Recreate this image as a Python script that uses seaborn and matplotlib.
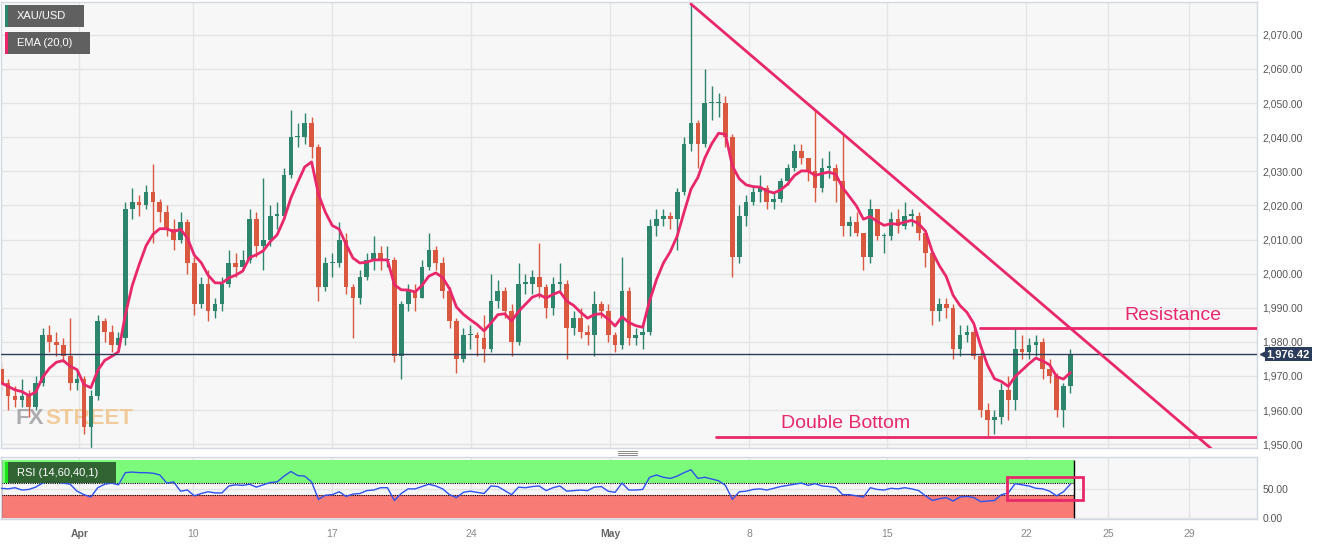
import numpy as np
import pandas as pd
import matplotlib
matplotlib.use("Agg")
import matplotlib.pyplot as plt
import matplotlib.transforms as mtransforms
from matplotlib.patches import Rectangle
from matplotlib.lines import Line2D
import seaborn as sns

# XAU/USD 6-hour candles, Mar 29 - May 23 (trading days only, 4 bars per day)
first_open = 1972
close = [1968, 1964, 1963, 1964, 1961, 1968, 1982, 1980, 1979, 1976, 1968, 1969,
         1955, 1964, 1986, 1983, 1979, 1981, 2019, 2021, 2020, 2024, 2021, 2018,
         2013, 2010, 2015, 2003, 1991, 1997, 1989, 1991, 1997, 2003, 2002, 2004,
         2016, 2008, 2010, 2017, 2017, 2029, 2040, 2040, 2044, 2037, 1996, 2003,
         2003, 2010, 1996, 1993, 1999, 2004, 2006, 2004, 2004, 1976, 1991, 1995,
         1993, 2002, 2007, 2003, 1995, 1986, 1975, 1982, 1982, 1981, 1978, 1992,
         1995, 1989, 1980, 1997, 1997, 1999, 1996, 1990, 1997, 1997, 1984, 1987,
         1983, 1982, 1991, 1989, 1982, 1979, 1995, 1981, 1982, 1983, 2014, 2016,
         2017, 2016, 2024, 2038, 2044, 2038, 2050, 2050, 2050, 2040, 2005, 2017,
         2021, 2024, 2025, 2021, 2022, 2027, 2031, 2036, 2034, 2030, 2025, 2031,
         2031, 2027, 2014, 2015, 2012, 2005, 2019, 2011, 2011, 2016, 2014, 2017,
         2017, 2012, 2006, 1989, 1991, 1990, 1978, 1982, 1983, 1976, 1960, 1957,
         1958, 1966, 1963, 1978, 1977, 1979, 1980, 1972, 1970, 1960, 1967, 1976.42]
high = [1974, 1969, 1967, 1969, 1966, 1970, 1984, 1985, 1983, 1981, 1987, 1972,
        1970, 1966, 1988, 1987, 1985, 1983, 2021, 2025, 2023, 2026, 2032, 2022,
        2020, 2016, 2018, 2016, 2005, 1999, 2001, 1993, 1999, 2007, 2006, 2007,
        2019, 2018, 2028, 2020, 2021, 2031, 2048, 2044, 2047, 2046, 2038, 2005,
        2006, 2015, 2012, 1997, 2001, 2006, 2011, 2008, 2008, 2005, 1992, 1997,
        1997, 2004, 2012, 2008, 2005, 1996, 1987, 1984, 1985, 1983, 1988, 2000,
        1998, 1996, 1991, 2003, 2000, 2001, 2009, 1997, 1999, 2003, 1998, 1989,
        1990, 1985, 1995, 1992, 1991, 1983, 2005, 1996, 1984, 1985, 2016, 2019,
        2019, 2018, 2025, 2040, 2079, 2045, 2060, 2055, 2053, 2052, 2041, 2020,
        2023, 2026, 2029, 2026, 2024, 2028, 2032, 2038, 2038, 2034, 2048, 2034,
        2036, 2032, 2041, 2017, 2018, 2012, 2022, 2019, 2012, 2018, 2019, 2021,
        2019, 2018, 2012, 2006, 1993, 1993, 1991, 1985, 1985, 1984, 1977, 1962,
        1960, 1968, 1970, 1984, 1982, 1981, 1982, 1981, 1975, 1971, 1968, 1978]
low = [1966, 1960, 1961, 1961, 1958, 1960, 1967, 1977, 1976, 1974, 1966, 1966,
       1953, 1949, 1963, 1980, 1977, 1977, 1979, 2016, 2017, 2019, 2009, 2015,
       2011, 2007, 2009, 2000, 1988, 1990, 1986, 1987, 1989, 1996, 1999, 2001,
       2003, 2005, 2001, 2008, 2013, 2016, 2028, 2037, 2038, 2034, 1992, 1995,
       1999, 2002, 1994, 1981, 1991, 1998, 2001, 2001, 2002, 1974, 1969, 1989,
       1989, 1993, 2001, 2001, 1993, 1984, 1971, 1974, 1978, 1976, 1974, 1977,
       1990, 1987, 1976, 1979, 1994, 1994, 1993, 1987, 1988, 1995, 1975, 1982,
       1981, 1979, 1976, 1987, 1980, 1977, 1978, 1979, 1979, 1978, 1982, 2011,
       2014, 2013, 2007, 2023, 2036, 2031, 2037, 2045, 2046, 2037, 1999, 2003,
       2014, 2020, 2021, 2019, 2019, 2021, 2026, 2030, 2032, 2027, 2021, 2024,
       2028, 2021, 2011, 2011, 2011, 2001, 2003, 2010, 2006, 2010, 2012, 2013,
       2014, 2010, 2002, 1985, 1986, 1987, 1975, 1976, 1980, 1975, 1958, 1952,
       1953, 1956, 1957, 1960, 1975, 1975, 1976, 1969, 1968, 1958, 1955, 1965]
rsi = [51, 50, 52, 48, 49, 53, 60, 63, 62, 60, 58, 46,
       40, 36, 52, 58, 60, 57, 78, 79, 78, 78, 77, 74,
       60, 62, 46, 48, 38, 42, 45, 43, 43, 55, 57, 56,
       58, 53, 57, 61, 62, 72, 80, 73, 72, 62, 32, 39,
       40, 45, 37, 41, 42, 47, 48, 52, 52, 30, 42, 50,
       50, 54, 58, 55, 50, 40, 35, 44, 46, 44, 42, 55,
       54, 47, 40, 53, 52, 54, 55, 47, 52, 55, 46, 47,
       48, 47, 53, 54, 46, 44, 60, 48, 48, 49, 70, 74,
       70, 68, 72, 78, 83, 68, 70, 67, 64, 56, 32, 45,
       46, 49, 50, 48, 51, 54, 56, 58, 60, 56, 59, 55,
       54, 52, 40, 40, 38, 36, 52, 49, 48, 51, 50, 52,
       50, 47, 38, 30, 33, 35, 29, 36, 37, 35, 28, 29,
       30, 40, 43, 59, 57, 55, 51, 50, 46, 38, 45, 58]

tick_labels = ["Apr", "10", "17", "24", "May", "8", "15", "22", "25", "29"]
tick_days = [2.96, 7.09, 12.13, 17.17, 22.2, 27.24, 32.24, 37.28, 40.25, 43.18]
price_ticks = list(range(1950, 2071, 10))

# analyst drawings
resistance = 1984
resistance_from = 35.6
double_bottom = 1952.2
double_bottom_from = 26.04
rsi_box_x = [36.59, 39.34]
rsi_box_y = [31, 70.7]

GREEN = "#2e856e"
RED = "#d9583f"
PINK = "#e8286a"
NAVY = "#2c3d5c"

bars_per_day = 4
df = pd.DataFrame({"close": close, "high": high, "low": low, "rsi": rsi})
df["open"] = df["close"].shift(1).fillna(first_open)
df["x"] = (np.arange(len(df)) + 0.5) / bars_per_day
# EMA 20 of the 2-hour chart -> 3 base candles per 6-hour bar
df["ema"] = df["close"].ewm(alpha=1 - (19 / 21) ** 3, adjust=False).mean()
df["color"] = np.where(df["close"] >= df["open"], GREEN, RED)

sns.set_style("white")
plt.rcParams["font.family"] = ["Liberation Sans", "DejaVu Sans"]

W, H = 1328, 545
fig = plt.figure(figsize=(W / 100, H / 100), dpi=100)
ax = fig.add_axes([0.5 / W, 1 - 448 / H, 1256.5 / W, 446 / H])
ax_rsi = fig.add_axes([0.5 / W, 1 - 519 / H, 1256.5 / W, 62 / H], sharex=ax)

for a in (ax, ax_rsi):
    a.set_facecolor("#f7f7f7")
    for s in a.spines.values():
        s.set_color("#d3d8e4")
        s.set_linewidth(1)
    a.grid(True, color="#e4e4e4", linewidth=1)
    a.set_axisbelow(True)
    a.yaxis.tick_right()
    a.tick_params(length=0, labelsize=7.5, labelcolor="#555555", pad=4)

# watermark (behind the candles)
renderer = fig.canvas.get_renderer()
wm_fx = ax.text(15 / 1256.5, 1 - (424 - 2) / 446, "FX", color="#9b9ba0", alpha=0.8, fontsize=16,
                fontweight="bold", va="baseline", transform=ax.transAxes, zorder=1)
bb = wm_fx.get_window_extent(renderer=renderer)
ax.text((bb.x1 + 1) / 1256.5, 1 - (424 - 2) / 446, "STREET", color="#f0c48c", alpha=0.85, fontsize=16,
        fontweight="bold", va="baseline", transform=ax.transAxes, zorder=1)

# candles
body_lo = df[["open", "close"]].min(axis=1)
body_h = (df["close"] - df["open"]).abs().clip(lower=0.4)
ax.vlines(df["x"], df["low"], df["high"], colors=df["color"], linewidth=1, zorder=2)
ax.bar(df["x"], body_h, bottom=body_lo, width=0.17, color=df["color"], linewidth=0, zorder=3)
sns.lineplot(data=df, x="x", y="ema", ax=ax, color=PINK, linewidth=2, zorder=4)

# trend line through the May 4 and May 11 highs
i1, i2 = 100, 122
slope = (df["high"][i2] - df["high"][i1]) / (df["x"][i2] - df["x"][i1])
tx = np.array([df["x"][i1], 46])
ax.plot(tx, df["high"][i1] + slope * (tx - df["x"][i1]), color=PINK, linewidth=2, zorder=5)
ax.plot([resistance_from, 46], [resistance, resistance], color=PINK, linewidth=2, zorder=5)
ax.plot([double_bottom_from, 46], [double_bottom, double_bottom], color=PINK, linewidth=2, zorder=5)
ax.text(42.6, resistance + 1.3, "Resistance", color=PINK, fontsize=14, ha="center", va="bottom")
ax.text(30.72, double_bottom + 1.3, "Double Bottom", color=PINK, fontsize=14, ha="center", va="bottom")

last = close[-1]
ax.axhline(last, color=NAVY, linewidth=1, zorder=4)
blend = mtransforms.blended_transform_factory(ax.transAxes, ax.transData)
ax.plot([1.0075], [last], marker="<", markersize=9, color=NAVY, transform=blend, clip_on=False, zorder=6)
ax.annotate(f"{last:,.2f}", xy=(1, last), xycoords=blend, xytext=(7, 0), textcoords="offset points",
            ha="left", va="center", color="white", fontsize=8, fontweight="bold", annotation_clip=False,
            bbox=dict(boxstyle="square,pad=0.2", fc=NAVY, ec="none"), zorder=7)

ax.set_ylim(1948.9, 2079.6)
ax.set_xlim(0.1, 45.64)
ax.set_yticks(price_ticks)
ax.set_yticklabels([f"{p:,.2f}" for p in price_ticks])
ax.set_xticks(tick_days)
ax.tick_params(labelbottom=False)
ax.set_xlabel("")
ax.set_ylabel("")

# RSI panel
x_end = df["x"].iloc[-1] + 0.15
ax_rsi.fill_between([0.1, x_end], 60, 100, color="#7cfa7c", linewidth=0, zorder=1)
ax_rsi.fill_between([0.1, x_end], 0, 40, color="#f97b76", linewidth=0, zorder=1)
ax_rsi.hlines([60, 40], 0.1, x_end, colors="black", linewidth=0.8, linestyles=(0, (1, 1)), zorder=2)
ax_rsi.vlines([0.12, x_end], 0, 100, colors="black", linewidth=1, zorder=2)
sns.lineplot(data=df, x="x", y="rsi", ax=ax_rsi, color="#2d52ee", linewidth=1, zorder=3)
ax_rsi.add_patch(Rectangle((rsi_box_x[0], rsi_box_y[0]), rsi_box_x[1] - rsi_box_x[0],
                           rsi_box_y[1] - rsi_box_y[0], fill=False, ec=PINK, linewidth=2, zorder=4))
ax_rsi.set_ylim(-2, 105)
ax_rsi.set_yticks([0, 50])
ax_rsi.set_yticklabels(["0.00", "50.00"])
ax_rsi.set_xticks(tick_days)
ax_rsi.set_xticklabels(tick_labels)
ax_rsi.tick_params(axis="x", pad=7, labelcolor="#888888")
for lbl in ax_rsi.get_xticklabels():
    if lbl.get_text() in ("Apr", "May"):
        lbl.set_fontweight("bold")
        lbl.set_color("#666666")
ax_rsi.set_xlabel("")
ax_rsi.set_ylabel("")


def px_rect(x0, y0, x1, y1, color, alpha=1.0):
    fig.add_artist(Rectangle((x0 / W, 1 - y1 / H), (x1 - x0) / W, (y1 - y0) / H,
                             transform=fig.transFigure, fc=color, ec="none", alpha=alpha, zorder=10))


# legend tags
px_rect(5, 5, 84, 27, "#555555", 0.93)
px_rect(5, 5, 8, 27, GREEN)
fig.text(17 / W, 1 - 16 / H, "XAU/USD", color="white", fontsize=8, va="center", zorder=11)
px_rect(5, 32, 90, 54, "#555555", 0.93)
px_rect(5, 32, 8, 54, PINK)
fig.text(17 / W, 1 - 43 / H, "EMA (20,0)", color="white", fontsize=8, va="center", zorder=11)
px_rect(5, 462, 116, 483, "#2f5e31", 0.97)
px_rect(5, 462, 8, 483, "#19e619")
fig.text(17 / W, 1 - 472.5 / H, "RSI (14,60,40,1)", color="white", fontsize=8, va="center", zorder=11)

# panel resize handle
for yy in (451, 453, 455):
    fig.add_artist(Line2D([618 / W, 637 / W], [1 - yy / H, 1 - yy / H], color="#888888",
                          linewidth=0.7, transform=fig.transFigure))

fig.savefig("out.png", dpi=100)
